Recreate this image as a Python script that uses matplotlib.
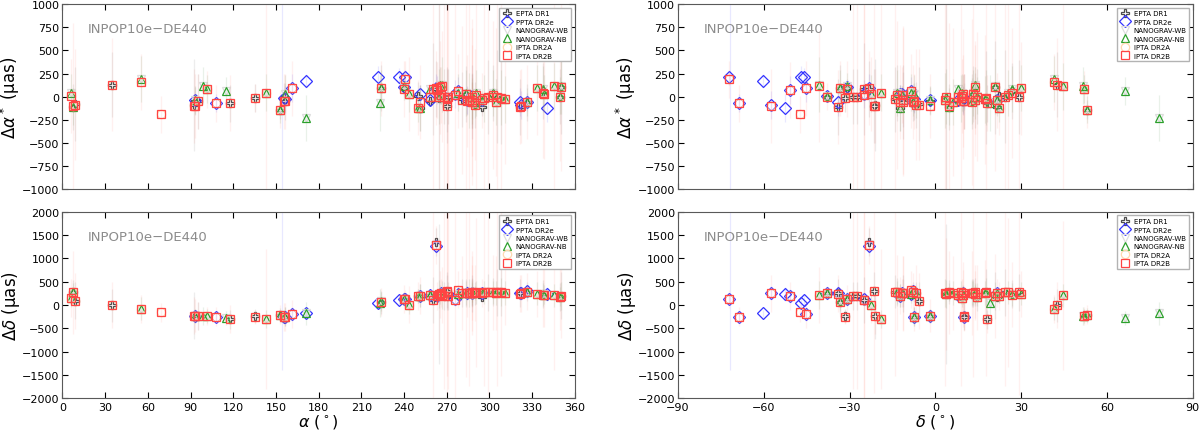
import matplotlib
matplotlib.use("Agg")
import matplotlib.pyplot as plt

# pulsar positions (deg)
psr_names = ["J0023+0923", "J0030+0451", "J0034-0534", "J0218+4232", "J0340+4130", "J0437-4715",
             "J0610-2100", "J0613-0200", "J0621+1002", "J0636+5128", "J0645+5158", "J0711-6830",
             "J0740+6620", "J0751+1807", "J0900-3144", "J0931-1902", "J1012+5307", "J1017-7156",
             "J1022+1001", "J1024-0719", "J1045-4509", "J1125-6014", "J1125+7819", "J1446-4701",
             "J1453+1902", "J1455-3330", "J1545-4550", "J1600-3053", "J1603-7202", "J1614-2230",
             "J1640+2224", "J1643-1224", "J1713+0747", "J1721-2457", "J1730-2304", "J1732-5049",
             "J1738+0333", "J1741+1351", "J1744-1134", "J1747-4036", "J1751-2857", "J1801-1417",
             "J1802-2124", "J1804-2717", "J1824-2452A", "J1832-0836", "J1843-1113", "J1853+1303",
             "J1857+0943", "J1903+0327", "J1909-3744", "J1910+1256", "J1911+1347", "J1911-1114",
             "J1918-0642", "J1923+2515", "J1939+2134", "J1944+0907", "J1955+2908", "J2010-1323",
             "J2017+0603", "J2019+2425", "J2033+1734", "J2043+1711", "J2124-3358", "J2129-5721",
             "J2145-0750", "J2214+3000", "J2229+2643", "J2234+0944", "J2241-5236", "J2302+4442",
             "J2317+1439", "J2322+2057"]
psr_ra = [5.82, 7.61, 8.59, 34.53, 55.10, 69.32,
          92.56, 93.43, 95.35, 99.02, 101.44, 107.98,
          115.19, 117.79, 135.19, 142.84, 153.14, 154.30,
          155.74, 156.16, 161.46, 171.48, 171.46, 221.65,
          223.40, 223.95, 236.38, 240.22, 240.96, 243.65,
          250.07, 250.91, 258.46, 260.36, 262.59, 263.20,
          264.73, 265.38, 266.12, 266.95, 267.93, 270.29,
          270.54, 271.07, 276.13, 278.07, 280.92, 283.47,
          284.40, 285.79, 287.45, 287.54, 287.97, 287.96,
          289.70, 290.91, 294.91, 296.16, 298.87, 302.72,
          304.34, 305.00, 308.43, 310.84, 321.18, 322.25,
          326.46, 333.66, 337.46, 338.71, 340.42, 345.70,
          349.29, 350.56]
psr_dec = [9.39, 4.86, -5.58, 42.54, 41.51, -47.25,
           -21.01, -2.01, 10.04, 51.48, 51.98, -68.51,
           66.34, 18.13, -31.74, -19.05, 53.12, -71.94,
           10.03, -7.32, -45.16, -60.24, 78.32, -47.02,
           19.03, -33.51, -45.84, -30.90, -72.04, -22.51,
           22.40, -12.42, 7.79, -24.95, -23.08, -50.82,
           3.55, 13.86, -11.58, -40.61, -28.95, -14.29,
           -21.41, -27.29, -24.87, -8.61, -11.23, 13.06,
           9.72, 3.46, -37.74, 12.94, 13.80, -11.24,
           -6.70, 25.26, 21.58, 9.12, 29.14, -13.39,
           6.05, 24.42, 17.58, 17.19, -33.98, -57.35,
           -7.84, 30.01, 26.73, 9.74, -52.61, 44.71,
           14.66, 20.96]

# EPTA DR1
epta_psr = ["J0030+0451", "J0034-0534", "J0218+4232", "J0610-2100", "J0613-0200", "J0621+1002",
            "J0751+1807", "J0900-3144", "J1012+5307", "J1022+1001", "J1024-0719", "J1455-3330",
            "J1600-3053", "J1640+2224", "J1643-1224", "J1713+0747", "J1721-2457", "J1730-2304",
            "J1738+0333", "J1744-1134", "J1751-2857", "J1801-1417", "J1802-2124", "J1804-2717",
            "J1843-1113", "J1853+1303", "J1857+0943", "J1909-3744", "J1910+1256", "J1911+1347",
            "J1911-1114", "J1918-0642", "J1939+2134", "J1955+2908", "J2010-1323", "J2019+2425",
            "J2033+1734", "J2124-3358", "J2145-0750", "J2229+2643", "J2317+1439", "J2322+2057"]
epta_dra = [-110, -80, 130, -90, -50, -50,
            -70, -15, -140, 0, -50, 90,
            90, 10, -120, -50, 80, 80,
            -20, 20, 0, -30, -100, 0,
            -30, 30, -50, 0, -50, -40,
            -60, -90, -110, 0, 40, 0,
            -10, -110, -60, 60, 0, 100]
epta_ddec = [280, 90, -10, -230, -230, -240,
             -310, -240, -210, -250, -250, 60,
             130, 200, 200, 210, 110, 1350,
             230, 250, 200, 290, 300, 200,
             260, 260, 250, 260, 260, 270,
             250, 250, 180, 270, 270, 270,
             270, 250, 290, 230, 170, 200]
epta_err = [250, 400, 350, 500, 150, 300,
            200, 150, 100, 150, 200, 250,
            100, 150, 250, 50, 500, 300,
            1500, 100, 300, 350, 400, 300,
            300, 300, 150, 50, 300, 300,
            400, 250, 100, 400, 300, 500,
            500, 300, 200, 300, 300, 500]

# PPTA DR2e (J1017-7156 lies off the plotted range)
ppta_psr = ["J0613-0200", "J0711-6830", "J1017-7156", "J1022+1001", "J1024-0719", "J1045-4509",
            "J1125-6014", "J1446-4701", "J1545-4550", "J1600-3053", "J1603-7202", "J1643-1224",
            "J1713+0747", "J1730-2304", "J1732-5049", "J1744-1134", "J1824-2452A", "J1832-0836",
            "J1857+0943", "J1909-3744", "J1939+2134", "J2124-3358", "J2129-5721", "J2145-0750",
            "J2241-5236"]
ppta_dra = [-40, -70, 1300, -20, -30, 90,
            170, 215, 210, 100, 210, 30,
            -40, 90, 70, 30, 30, 60,
            -40, 10, -40, -60, -90, -60,
            -120]
ppta_ddec = [-230, -250, 2300, -250, -250, -200,
             -180, 40, 110, 130, 130, 200,
             210, 1260, 200, 250, 130, 240,
             250, 260, 260, 260, 250, 300,
             240]
ppta_err = [60, 100, 3700, 100, 150, 150,
            80, 120, 100, 60, 80, 100,
            30, 150, 150, 50, 150, 150,
            150, 30, 60, 150, 150, 100,
            150]

# NANOGrav (narrow-band); wide-band points sit on top of them
nb_psr = ["J0023+0923", "J0030+0451", "J0340+4130", "J0613-0200", "J0636+5128", "J0645+5158",
          "J0740+6620", "J0931-1902", "J1012+5307", "J1024-0719", "J1125+7819", "J1453+1902",
          "J1455-3330", "J1600-3053", "J1614-2230", "J1640+2224", "J1643-1224", "J1713+0747",
          "J1738+0333", "J1741+1351", "J1744-1134", "J1747-4036", "J1832-0836", "J1853+1303",
          "J1903+0327", "J1909-3744", "J1910+1256", "J1911+1347", "J1918-0642", "J1923+2515",
          "J1939+2134", "J1944+0907", "J2010-1323", "J2017+0603", "J2033+1734", "J2043+1711",
          "J2145-0750", "J2214+3000", "J2229+2643", "J2234+0944", "J2302+4442", "J2317+1439",
          "J2322+2057"]
nb_dra = [40, -110, 190, -40, 120, 80,
          60, 40, -140, 30, -230, -70,
          90, 110, 30, -120, -120, 80,
          0, 125, 20, 130, 40, 40,
          -40, 10, -50, -40, -80, 40,
          -40, -20, 40, -60, -10, -30,
          -60, 90, 80, 30, 110, 10,
          110]
nb_ddec = [150, 280, -80, -230, -240, -240,
           -280, -300, -210, -250, -180, 40,
           80, 120, 10, 200, 200, 210,
           230, 230, 250, 210, 240, 260,
           260, 260, 260, 270, 250, 270,
           260, 270, 270, 260, 270, 260,
           290, 240, 230, 220, 210, 180,
           200]
nb_err = [200, 200, 250, 150, 200, 150,
          150, 200, 150, 200, 250, 300,
          200, 150, 200, 150, 250, 50,
          300, 200, 100, 300, 200, 250,
          300, 50, 250, 200, 150, 250,
          100, 250, 250, 250, 300, 250,
          150, 250, 250, 200, 250, 200,
          300]
wb_psr, wb_dra, wb_ddec, wb_err = nb_psr, nb_dra, nb_ddec, nb_err

# IPTA DR2B; DR2A points sit on top of them
ipta_psr = ["J0023+0923", "J0030+0451", "J0034-0534", "J0218+4232", "J0340+4130", "J0437-4715",
            "J0610-2100", "J0613-0200", "J0621+1002", "J0645+5158", "J0711-6830", "J0751+1807",
            "J0900-3144", "J0931-1902", "J1012+5307", "J1022+1001", "J1024-0719", "J1045-4509",
            "J1455-3330", "J1600-3053", "J1603-7202", "J1614-2230", "J1640+2224", "J1643-1224",
            "J1713+0747", "J1721-2457", "J1730-2304", "J1732-5049", "J1738+0333", "J1741+1351",
            "J1744-1134", "J1747-4036", "J1751-2857", "J1801-1417", "J1802-2124", "J1804-2717",
            "J1824-2452A", "J1832-0836", "J1843-1113", "J1853+1303", "J1857+0943", "J1903+0327",
            "J1909-3744", "J1910+1256", "J1911+1347", "J1911-1114", "J1918-0642", "J1923+2515",
            "J1939+2134", "J1944+0907", "J1955+2908", "J2010-1323", "J2017+0603", "J2019+2425",
            "J2033+1734", "J2043+1711", "J2124-3358", "J2129-5721", "J2145-0750", "J2214+3000",
            "J2229+2643", "J2234+0944", "J2302+4442", "J2317+1439", "J2322+2057"]
ipta_dra = [10, -100, -90, 130, 160, -190,
            -100, -100, -50, 80, -70, -70,
            -15, 40, -140, -50, -50, 90,
            90, 80, 190, 30, -120, -60,
            0, 80, 90, 70, 0, 100,
            20, 110, 0, -30, -100, 0,
            20, 60, -40, 30, -50, -40,
            0, -60, -40, -60, -90, 20,
            -40, -20, 0, 20, -60, 0,
            -20, -30, -110, -100, -60, 90,
            40, 30, 120, 0, 100]
ipta_ddec = [150, 270, 90, 0, -80, -160,
             -230, -230, -240, -240, -250, -310,
             -250, -300, -210, -250, -250, -200,
             60, 120, 130, 10, 200, 200,
             210, 110, 1290, 200, 230, 230,
             250, 210, 200, 280, 300, 200,
             100, 330, 260, 260, 250, 260,
             260, 260, 270, 250, 250, 270,
             260, 270, 270, 270, 260, 270,
             270, 260, 240, 250, 290, 240,
             220, 220, 210, 170, 190]
ipta_err = [400, 900, 600, 500, 300, 200,
            400, 350, 300, 200, 200, 300,
            150, 1500, 200, 300, 300, 300,
            300, 300, 200, 400, 300, 400,
            100, 2200, 400, 300, 1200, 500,
            300, 600, 2000, 1800, 2200, 2000,
            2200, 400, 800, 1800, 500, 2000,
            150, 900, 600, 800, 600, 1600,
            300, 2000, 2200, 800, 800, 2000,
            1800, 700, 400, 400, 400, 500,
            700, 700, 1600, 700, 900]
ipta2a_psr, ipta2a_dra, ipta2a_ddec, ipta2a_err = ipta_psr, ipta_dra, ipta_ddec, ipta_err

datasets = [
    ("EPTA DR1", epta_psr, epta_dra, epta_ddec, epta_err,
     dict(marker="P", mfc="white", mec="0.3", ms=6), "0.55", 0.15),
    ("PPTA DR2e", ppta_psr, ppta_dra, ppta_ddec, ppta_err,
     dict(marker="D", mfc="none", mec="#3333ff", ms=6.5), "#6666ff", 0.15),
    ("NANOGRAV-WB", wb_psr, wb_dra, wb_ddec, wb_err,
     dict(marker="v", mfc="none", mec="#dddddd", ms=6), "#bbbbbb", 0.1),
    ("NANOGRAV-NB", nb_psr, nb_dra, nb_ddec, nb_err,
     dict(marker="^", mfc="none", mec="#2ca02c", ms=6), "#2ca02c", 0.07),
    ("IPTA DR2A", ipta2a_psr, ipta2a_dra, ipta2a_ddec, ipta2a_err,
     dict(marker="o", mfc="none", mec="#ffd8b0", ms=6), "#ffcc99", 0.04),
    ("IPTA DR2B", ipta_psr, ipta_dra, ipta_ddec, ipta_err,
     dict(marker="s", mfc="none", mec="#ff4444", ms=6), "#ff7777", 0.09),
]

idx = {n: i for i, n in enumerate(psr_names)}

fig = plt.figure(figsize=(12, 4.31), dpi=100)
axes = [[fig.add_axes([0.052, 0.559, 0.427, 0.429]), fig.add_axes([0.565, 0.559, 0.429, 0.429])],
        [fig.add_axes([0.052, 0.074, 0.427, 0.432]), fig.add_axes([0.565, 0.074, 0.429, 0.432])]]

for row in range(2):
    for col in range(2):
        ax = axes[row][col]
        for label, names, dra, ddec, err, mstyle, ecol, ealpha in datasets:
            coord = psr_ra if col == 0 else psr_dec
            x = [coord[idx[n]] for n in names]
            y = dra if row == 0 else ddec
            ax.errorbar(x, y, yerr=err, fmt="none", ecolor=ecol, alpha=ealpha, elinewidth=0.9)
            ax.plot(x, y, ls="none", mew=0.9, label=label, **mstyle)

        if col == 0:
            ax.set_xlim(0, 360)
            ax.set_xticks(range(0, 361, 30))
        else:
            ax.set_xlim(-90, 90)
            ax.set_xticks(range(-90, 91, 30))
        if row == 0:
            ax.set_ylim(-1000, 1000)
            ax.set_yticks(range(-1000, 1001, 250))
            ax.set_ylabel(r"$\Delta\alpha^*$ (μas)", fontsize=12)
            ax.tick_params(labelbottom=False)
        else:
            ax.set_ylim(-2000, 2000)
            ax.set_yticks(range(-2000, 2001, 500))
            ax.set_ylabel(r"$\Delta\delta$ (μas)", fontsize=12)
            ax.set_xlabel(r"$\alpha$ ($^\circ$)" if col == 0 else r"$\delta$ ($^\circ$)",
                          fontsize=11.5, labelpad=0)
        ax.yaxis.set_label_coords(-0.078, 0.5)
        ax.tick_params(direction="in", top=True, right=True, labelsize=8, length=4, pad=2)
        ax.tick_params(axis="x", pad=3)
        for s in ax.spines.values():
            s.set_color("0.35")
        ax.text(0.05, 0.87, "INPOP10e\u2212DE440", transform=ax.transAxes,
                fontsize=9.5, color="0.55", va="center")
        ax.legend(loc="upper right", fontsize=5, borderpad=0.4, labelspacing=0.35,
                  handletextpad=0.5, handlelength=1.5, framealpha=1, edgecolor="0.7", fancybox=False)

fig.savefig("out.png", dpi=100)
